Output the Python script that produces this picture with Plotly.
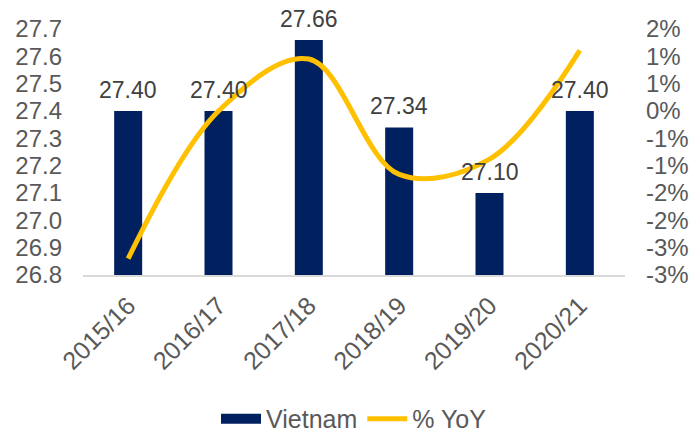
import plotly.graph_objects as go

categories = ["2015/16", "2016/17", "2017/18", "2018/19", "2019/20", "2020/21"]
vietnam = [27.40, 27.40, 27.66, 27.34, 27.10, 27.40]
yoy_pct = [-2.7, 0.0, 0.95, -1.16, -0.88, 1.11]
y2_tickvals = [-3.0, -2.5, -2.0, -1.5, -1.0, -0.5, 0.0, 0.5, 1.0, 1.5]
y2_ticktext = ["-3%", "-3%", "-2%", "-2%", "-1%", "-1%", "0%", "1%", "1%", "2%"]

FONT = "Liberation Sans, Arial, sans-serif"
NAVY = "#002060"
fig = go.Figure()
fig.add_trace(go.Bar(
    x=categories, y=vietnam, name="Vietnam", showlegend=False,
    marker=dict(color=NAVY, line=dict(width=0)),
    width=0.31,
))
# legend-only entry to mimic the wide rectangular swatch
fig.add_trace(go.Scatter(
    x=[None], y=[None], name="Vietnam", mode="lines",
    line=dict(color=NAVY, width=12),
))
fig.add_trace(go.Scatter(
    x=categories, y=yoy_pct, name="% YoY", yaxis="y2",
    mode="lines", line=dict(color="#FFC000", width=5, shape="spline", smoothing=1.0),
))
for c, v in zip(categories, vietnam):
    fig.add_annotation(x=c, y=v, text=f"{v:.2f}", showarrow=False,
                       yanchor="bottom", yshift=7, borderpad=0,
                       font=dict(family=FONT, size=23, color="#404040"))

fig.update_layout(
    width=695, height=435,
    margin=dict(l=83, r=70, t=29, b=160, autoexpand=False),
    paper_bgcolor="white", plot_bgcolor="white",
    font=dict(family=FONT, size=24, color="#595959"),
    showlegend=True,
    legend=dict(orientation="h", x=0.5, xanchor="center", y=-0.585, yanchor="middle",
                font=dict(size=25, color="#595959"), itemwidth=40),
    xaxis=dict(showgrid=False, showline=True, linecolor="#D9D9D9", linewidth=2,
               tickangle=-45, ticks="", ticklabelstandoff=4, automargin=False,
               tickfont=dict(size=25)),
    yaxis=dict(range=[26.8, 27.7], dtick=0.1, tickformat=".1f", showgrid=False,
               showline=False, zeroline=False, ticks="", ticklabelstandoff=20,
               automargin=False),
    yaxis2=dict(range=[-3.0, 1.5], overlaying="y", side="right", tickvals=y2_tickvals,
                ticktext=y2_ticktext, showgrid=False, showline=False, zeroline=False,
                ticks="", ticklabelstandoff=20, automargin=False),
)
fig.write_html("out.html", config={"displayModeBar": False},
               post_script="document.body.style.margin='0';")
